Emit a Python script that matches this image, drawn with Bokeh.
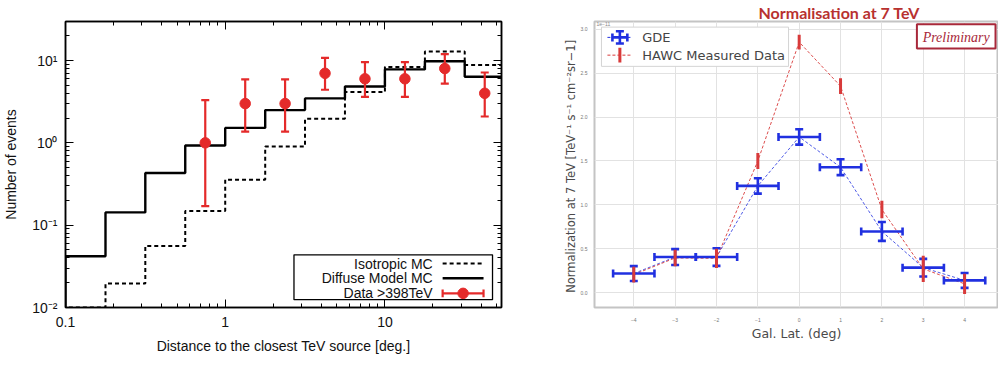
import math
from bokeh.plotting import figure
from bokeh.layouts import row
from bokeh.models import (Range1d, LinearScale, FixedTicker, LogAxis,
                          CustomJSTickFormatter, NumeralTickFormatter, Label)
from bokeh.embed import file_html
from bokeh.resources import INLINE
from bokeh.core.properties import value

# ---------------- Left panel data ----------------
bin_edges = [0.1, 0.178, 0.316, 0.562, 1.0, 1.78, 3.16, 5.62, 10.0, 17.8, 31.6, 56.2]
diffuse_mc = [0.042, 0.143, 0.43, 0.93, 1.52, 2.5, 3.47, 4.83, 7.8, 9.8, 6.35]
isotropic_mc = [0.01, 0.0195, 0.056, 0.149, 0.357, 0.906, 1.96, 4.14, 8.34, 12.9, 8.8]
data_x = [0.75, 1.334, 2.371, 4.217, 7.5, 13.34, 23.71, 42.17]
data_n = [1, 3, 3, 7, 6, 6, 8, 4]
data_lo = [0.17, 1.37, 1.37, 4.42, 3.62, 3.62, 5.23, 2.09]
data_hi = [3.30, 5.92, 5.92, 10.77, 9.58, 9.58, 11.95, 7.16]
x_ticks = [0.1, 1, 10]
x_tick_labels = ["0.1", "1", "10"]
y_ticks = [0.01, 0.1, 1, 10]
y_tick_labels = ["10⁻²", "10⁻¹", "10⁰", "10¹"]
legend_left = ["Isotropic MC", "Diffuse Model MC", "Data >398TeV"]

# ---------------- Right panel data ----------------
lat = [-4, -3, -2, -1, 0, 1, 2, 3, 4]
gde = [0.217, 0.405, 0.405, 1.216, 1.774, 1.429, 0.697, 0.284, 0.139]
gde_err = [0.085, 0.09, 0.1, 0.088, 0.088, 0.09, 0.107, 0.1, 0.085]
gde_xerr = [0.5] * 9
hawc = [0.205, 0.395, 0.39, 1.50, 2.855, 2.353, 0.946, 0.27, 0.10]
hawc_err = [0.09, 0.094, 0.11, 0.09, 0.085, 0.09, 0.10, 0.15, 0.115]
lat_ticks = [-4, -3, -2, -1, 0, 1, 2, 3, 4]
norm_ticks = [0.0, 0.5, 1.0, 1.5, 2.0, 2.5, 3.0]
legend_right = ["GDE", "HAWC Measured Data"]

RED = "#e42a2a"
BLUE = "#2030e0"
HRED = "#d83a3a"
DARKRED = "#a8283a"
SANS = "Liberation Sans"

# ================= Left figure =================
FW1, FH1 = 437, 293
p1 = figure(width=560, height=365, x_axis_type="log", y_axis_type="log",
            x_range=Range1d(0.1, 53.7), y_range=Range1d(0.01, 29.8),
            output_backend="svg", toolbar_location=None,
            min_border_left=64, min_border_right=59, min_border_top=14, min_border_bottom=58)
p1.grid.visible = False
p1.outline_line_color = "black"
p1.outline_line_width = 1.5
p1.background_fill_color = "white"
p1.border_fill_color = "white"

x_minor = [m * 10 ** k for k in (-1, 0, 1) for m in range(2, 10)]
y_minor = [m * 10 ** k for k in (-2, -1, 0, 1) for m in range(2, 10)]
FMT_CODE = """
for (let i = 0; i < tvals.length; i++) { if (Math.abs(tick / tvals[i] - 1) < 1e-6) return tlabels[i]; }
return '';"""
xfmt = CustomJSTickFormatter(args=dict(tvals=x_ticks, tlabels=x_tick_labels), code=FMT_CODE)
yfmt = CustomJSTickFormatter(args=dict(tvals=y_ticks, tlabels=y_tick_labels), code=FMT_CODE)
empty_fmt = CustomJSTickFormatter(code="return '';")


def style_log_axis(ax, ticker, fmt, show_labels):
    ax.ticker = ticker
    ax.formatter = fmt
    ax.major_tick_in = 8
    ax.major_tick_out = 0
    ax.minor_tick_in = 4
    ax.minor_tick_out = 0
    ax.major_tick_line_color = "black"
    ax.minor_tick_line_color = "black"
    ax.axis_line_color = "black"
    ax.axis_line_width = 1.5
    if show_labels:
        ax.major_label_text_font = SANS
        ax.major_label_text_font_size = "14px"
        ax.major_label_text_color = "#111111"
        ax.axis_label_text_font = SANS
        ax.axis_label_text_font_size = "14px"
        ax.axis_label_text_font_style = "normal"
        ax.axis_label_text_color = "#111111"
    else:
        ax.major_label_text_font_size = "0px"
        ax.major_label_standoff = 0
        ax.axis_label_standoff = 0


style_log_axis(p1.xaxis[0], FixedTicker(ticks=x_ticks, minor_ticks=x_minor), xfmt, True)
style_log_axis(p1.yaxis[0], FixedTicker(ticks=y_ticks, minor_ticks=y_minor), yfmt, True)
p1.xaxis[0].axis_label = "Distance to the closest TeV source [deg.]"
p1.yaxis[0].axis_label = "Number of events"
p1.xaxis[0].major_label_standoff = 9
p1.xaxis[0].axis_label_standoff = 8
p1.yaxis[0].major_label_standoff = 8
p1.yaxis[0].axis_label_standoff = 10

# mirrored tick axes (top / right) without labels
top_ax = LogAxis()
style_log_axis(top_ax, FixedTicker(ticks=x_ticks, minor_ticks=x_minor), empty_fmt, False)
right_ax = LogAxis()
style_log_axis(right_ax, FixedTicker(ticks=y_ticks, minor_ticks=y_minor), empty_fmt, False)
p1.add_layout(top_ax, "above")
p1.add_layout(right_ax, "right")


def step_outline(edges, vals, floor=1e-4):
    xs, ys = [edges[0]], [floor]
    for i, v in enumerate(vals):
        xs += [edges[i], edges[i + 1]]
        ys += [v, v]
    return xs, ys


ix, iy = step_outline(bin_edges, isotropic_mc)
dx, dy = step_outline(bin_edges, diffuse_mc)
p1.line(ix, iy, line_color="black", line_width=2, line_dash="4 3")
p1.line(dx, dy, line_color="black", line_width=2.4)

# data points with asymmetric Poisson errors
p1.segment(x0=data_x, y0=data_lo, x1=data_x, y1=data_hi, line_color=RED, line_width=2.2)
p1.scatter(x=data_x + data_x, y=data_lo + data_hi, marker="dash", size=8,
           line_color=RED, line_width=2.2)
p1.scatter(x=data_x, y=data_n, marker="circle", size=10.5, fill_color=RED, line_color=RED)

# legend (pixel-coordinate helper ranges)
p1.extra_x_ranges = {"px": Range1d(0, FW1)}
p1.extra_y_ranges = {"px": Range1d(0, FH1)}
p1.extra_x_scales = {"px": LinearScale()}
p1.extra_y_scales = {"px": LinearScale()}
PX = dict(x_range_name="px", y_range_name="px")
p1.quad(left=229, right=428, bottom=8, top=54, fill_color="white",
        line_color="black", line_width=1.3, **PX)
rows_y = [45, 30, 14.5]
p1.text(x=[368] * 3, y=rows_y, text=legend_left, text_align="right", text_baseline="middle",
        text_font=value(SANS), text_font_size="14px", text_color="#111111", **PX)
p1.segment(x0=[378], y0=[rows_y[0]], x1=[419], y1=[rows_y[0]], line_color="black",
           line_width=2, line_dash="4 3", **PX)
p1.segment(x0=[378], y0=[rows_y[1]], x1=[419], y1=[rows_y[1]], line_color="black",
           line_width=2.4, **PX)
p1.segment(x0=[378], y0=[rows_y[2]], x1=[419], y1=[rows_y[2]], line_color=RED,
           line_width=2.2, **PX)
p1.segment(x0=[378, 419], y0=[rows_y[2] - 4] * 2, x1=[378, 419], y1=[rows_y[2] + 4] * 2,
           line_color=RED, line_width=2.2, **PX)
p1.scatter(x=[398.5], y=[rows_y[2]], marker="circle", size=10.5, fill_color=RED,
           line_color=RED, **PX)

# ================= Right figure =================
p2 = figure(width=438, height=365, x_range=Range1d(-4.95, 4.82), y_range=Range1d(-0.17, 3.09),
            output_backend="svg", toolbar_location=None,
            min_border_left=32, min_border_right=0, min_border_top=0, min_border_bottom=40)
p2.title.text = "Normalisation at 7 TeV"
p2.title.align = "left"
p2.title.offset = 164
p2.title.standoff = 0
p2.title.text_font = "Lato"
p2.title.text_font_style = "bold"
p2.title.text_font_size = "16px"
p2.title.text_color = "#b8312f"
p2.title.text_line_height = 0.8
p2.outline_line_color = "#c4c4c4"
p2.outline_line_width = 2
p2.background_fill_color = "white"
p2.border_fill_color = "white"
p2.xaxis.ticker = FixedTicker(ticks=lat_ticks)
p2.yaxis.ticker = FixedTicker(ticks=norm_ticks)
p2.yaxis.formatter = NumeralTickFormatter(format="0.0")
for ax in (p2.xaxis[0], p2.yaxis[0]):
    ax.axis_line_color = None
    ax.major_tick_line_color = None
    ax.minor_tick_line_color = None
    ax.major_label_text_font_size = "5px"
    ax.major_label_text_color = "#777777"
    ax.major_label_standoff = 4
    ax.axis_label_text_font = "DejaVu Sans"
    ax.axis_label_text_font_style = "normal"
    ax.axis_label_text_color = "#4a4a4a"
p2.xaxis[0].axis_label = "Gal. Lat. (deg)"
p2.xaxis[0].axis_label_text_font_size = "12.5px"
p2.xaxis[0].axis_label_standoff = 1
p2.yaxis[0].axis_label = "Normalization at 7 TeV  [TeV⁻¹ s⁻¹ cm⁻²sr−1]"
p2.yaxis[0].axis_label_text_font_size = "11.5px"
p2.yaxis[0].axis_label_standoff = 0
p2.yaxis[0].major_label_standoff = 1
p2.grid.grid_line_color = "#e2e2e2"
p2.grid.grid_line_width = 1

# connecting dashed lines
p2.line(lat, gde, line_color=BLUE, line_width=1, line_dash="3 2", line_alpha=0.8)
p2.line(lat, hawc, line_color=HRED, line_width=1, line_dash="3 2", line_alpha=0.9)

# GDE error crosses
gx_lo = [x - e for x, e in zip(lat, gde_xerr)]
gx_hi = [x + e for x, e in zip(lat, gde_xerr)]
gy_lo = [y - e for y, e in zip(gde, gde_err)]
gy_hi = [y + e for y, e in zip(gde, gde_err)]
p2.segment(x0=gx_lo, y0=gde, x1=gx_hi, y1=gde, line_color=BLUE, line_width=2.6)
p2.segment(x0=lat, y0=gy_lo, x1=lat, y1=gy_hi, line_color=BLUE, line_width=2.6)
p2.scatter(x=gx_lo + gx_hi, y=gde + gde, marker="dash", angle=math.pi / 2, size=8,
           line_color=BLUE, line_width=2.6)
p2.scatter(x=lat + lat, y=gy_lo + gy_hi, marker="dash", size=8,
           line_color=BLUE, line_width=2.6)

# HAWC error bars
hy_lo = [y - e for y, e in zip(hawc, hawc_err)]
hy_hi = [y + e for y, e in zip(hawc, hawc_err)]
p2.segment(x0=lat, y0=hy_lo, x1=lat, y1=hy_hi, line_color=HRED, line_width=3)

# legend and annotations (pixel helper ranges; frame is ~406 x ~306 px)
FW2, FH2 = 406, 306
p2.extra_x_ranges = {"px": Range1d(0, FW2)}
p2.extra_y_ranges = {"px": Range1d(0, FH2)}
p2.extra_x_scales = {"px": LinearScale()}
p2.extra_y_scales = {"px": LinearScale()}
p2.quad(left=7, right=195, bottom=258, top=300, fill_color="white", line_color="#d4d4d4",
        line_width=1, **PX)
ly = [289, 270]
p2.segment(x0=[13, 13], y0=ly, x1=[38, 38], y1=ly, line_color=[BLUE, HRED], line_width=1,
           line_dash="3 2", **PX)
p2.segment(x0=[18], y0=[ly[0]], x1=[33], y1=[ly[0]], line_color=BLUE, line_width=2.6, **PX)
p2.segment(x0=[25.5], y0=[ly[0] - 6.5], x1=[25.5], y1=[ly[0] + 6.5], line_color=BLUE,
           line_width=2.6, **PX)
p2.scatter(x=[18, 33], y=[ly[0]] * 2, marker="dash", angle=math.pi / 2, size=8,
           line_color=BLUE, line_width=2.6, **PX)
p2.scatter(x=[25.5] * 2, y=[ly[0] - 6.5, ly[0] + 6.5], marker="dash", size=8,
           line_color=BLUE, line_width=2.6, **PX)
p2.segment(x0=[25.5], y0=[ly[1] - 8], x1=[25.5], y1=[ly[1] + 8], line_color=HRED,
           line_width=3, **PX)
p2.text(x=[48, 48], y=ly, text=legend_right, text_baseline="middle",
        text_font=value("DejaVu Sans"), text_font_size="13px", text_color="#444444", **PX)

p2.quad(left=324, right=403, bottom=277, top=303, fill_color="white", line_color=DARKRED,
        line_width=2, **PX)
p2.add_layout(Label(x=363.5, y=289, text="Preliminary", text_align="center",
                    text_baseline="middle", text_font="Liberation Serif",
                    text_font_style="italic", text_font_size="14px", text_color=DARKRED, **PX))
p2.add_layout(Label(x=2, y=301, text="1e−11", text_font_size="5px", text_color="#888888", **PX))

layout = row(p1, p2)
open("out.html", "w").write(file_html(layout, INLINE))
